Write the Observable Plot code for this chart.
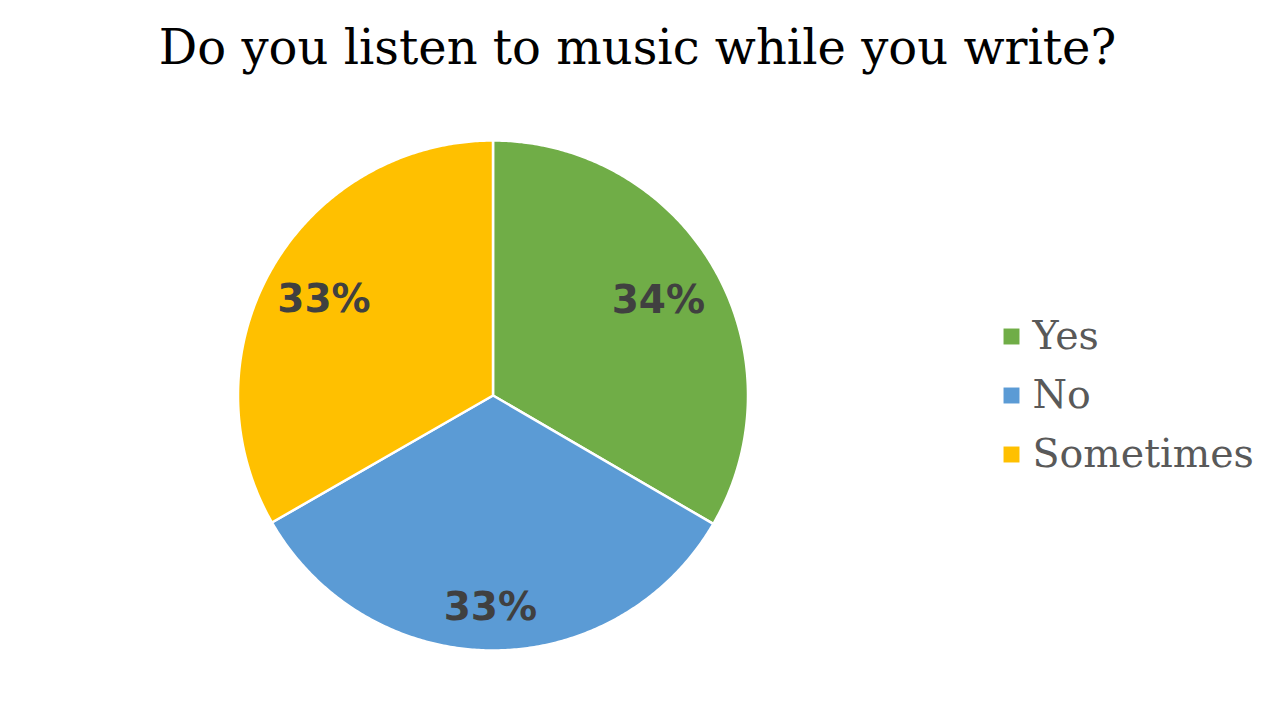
<!DOCTYPE html>
<html>
<head>
<meta charset="utf-8">
<script src="https://cdn.jsdelivr.net/npm/d3@7"></script>
<script src="https://cdn.jsdelivr.net/npm/@observablehq/plot@0.6"></script>
<style>
  html, body { margin: 0; padding: 0; background: #fff; }
  #title { height: 90px; width: 1275px; text-align: center; font-family: "DejaVu Serif", serif; font-size: 48px; line-height: 94px; color: #000; white-space: nowrap; }
  #chart svg { display: block; }
</style>
</head>
<body>
<div id="title">Do you listen to music while you write?</div>
<div id="chart"></div>
<script>
// Data
const categories = ["Yes", "No", "Sometimes"];
const values = [33.4, 33.3, 33.3];
const labels = ["34%", "33%", "33%"];
const colors = ["#70AD47", "#5B9BD5", "#FFC000"];

// Layout
const W = 1275, H = 624;
const cx = 492.5, cy = 305, R = 255;

const pie = d3.pie().sort(null).value(d => d.value);
const arcs = pie(categories.map((c, i) => ({cat: c, value: values[i], label: labels[i]})));

const polys = [];
for (const a of arcs) {
  polys.push({cat: a.data.cat, x: cx, y: cy});
  const steps = Math.max(2, Math.ceil((a.endAngle - a.startAngle) / (Math.PI / 360)));
  for (let k = 0; k <= steps; k++) {
    const t = a.startAngle + (a.endAngle - a.startAngle) * k / steps;
    polys.push({cat: a.data.cat, x: cx + R * Math.sin(t), y: cy - R * Math.cos(t)});
  }
}
const labelPts = arcs.map(a => {
  const m = (a.startAngle + a.endAngle) / 2;
  const r = 199 - 12 * Math.cos(m);
  return {label: a.data.label, x: cx + r * Math.sin(m) - 2, y: cy - r * Math.cos(m)};
});
const legend = categories.map((c, i) => ({cat: c, x: 1011, y: cy + (i - 1) * 59}));

const chart = Plot.plot({
  width: W, height: H,
  margin: 0,
  x: {domain: [0, W], range: [0, W], axis: null},
  y: {domain: [0, H], range: [0, H], axis: null},
  color: {domain: categories, range: colors},
  marks: [
    Plot.line(polys, {x: "x", y: "y", z: "cat", fill: "cat", stroke: "white", strokeWidth: 2.5, strokeLinejoin: "round", curve: "linear-closed"}),
    Plot.text(labelPts, {x: "x", y: "y", text: "label", fill: "#404040", fontSize: 39, fontWeight: "bold", fontFamily: "DejaVu Sans", dy: 1}),
    Plot.dot(legend, {x: "x", y: "y", fill: "cat", symbol: "square", r: 9}),
    Plot.text(legend, {x: d => d.x + 21, y: "y", text: "cat", textAnchor: "start", fill: "#595959", fontSize: 39.5, fontFamily: "DejaVu Serif", dy: 0})
  ]
});
document.getElementById("chart").appendChild(chart);
</script>
</body>
</html>
